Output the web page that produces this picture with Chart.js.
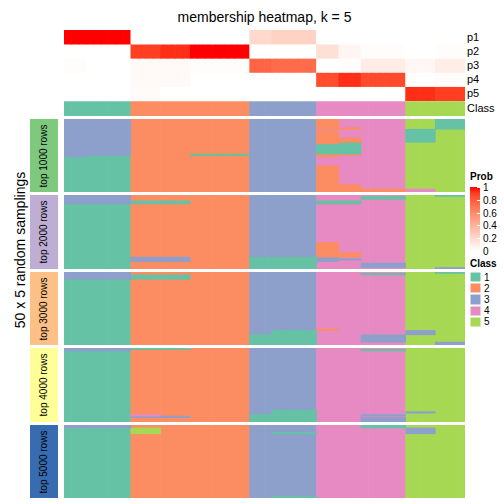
<!DOCTYPE html>
<html>
<head>
<meta charset="utf-8">
<script src="https://cdn.jsdelivr.net/npm/chart.js@4.4.1/dist/chart.umd.min.js"></script>
<style>
  html, body { margin: 0; padding: 0; background: #fff; }
  body { width: 504px; height: 504px; position: relative; overflow: hidden; font-family: "Liberation Sans", Arial, sans-serif; color: #000; }
  .abs { position: absolute; }
  canvas { position: absolute; display: block; }
  .rot { position: absolute; white-space: nowrap; transform: translate(-50%, -50%) rotate(-90deg); }
  .lbl { position: absolute; white-space: nowrap; font-size: 11px; line-height: 11px; }
</style>
</head>
<body>
<script>
// ---------------- DATA ----------------
const title = 'membership heatmap, k = 5';
const rowTitle = '50 x 5 random samplings';
const nCols = 54;
const nSamplings = 50;
// column groups (sample index boundaries) and their class
const groupBounds = [0, 3, 9, 13, 17, 25, 28, 34, 37, 40, 46, 50, 54];
const groupClass  = [1, 1, 2, 2, 2, 3, 3, 4, 4, 4, 5, 5];
// membership probabilities per column group
const p1 = [1.00, 1.00, 0.00, 0.00, 0.00, 0.20, 0.23, 0.00, 0.00, 0.00, 0.00, 0.00];
const p2 = [0.00, 0.00, 0.90, 0.94, 1.00, 0.00, 0.00, 0.16, 0.05, 0.01, 0.00, 0.01];
const p3 = [0.01, 0.00, 0.03, 0.03, 0.01, 0.76, 0.73, 0.00, 0.01, 0.10, 0.04, 0.09];
const p4 = [0.00, 0.00, 0.03, 0.03, 0.00, 0.00, 0.00, 0.85, 0.94, 0.86, 0.00, 0.01];
const p5 = [0.00, 0.00, 0.02, 0.00, 0.00, 0.00, 0.00, 0.00, 0.00, 0.00, 0.94, 0.90];
const probNames = ['p1', 'p2', 'p3', 'p4', 'p5'];
const classNames = ['1', '2', '3', '4', '5'];
const classColors = {1: '#66C2A5', 2: '#FC8D62', 3: '#8DA0CB', 4: '#E78AC3', 5: '#A6D854'};
const probTicks = [1, 0.8, 0.6, 0.4, 0.2, 0];
// sampling blocks: [firstCol, endCol, firstRow, endRow, class] deviations from the group class
const top1000 = [
  [0, 3, 0, 26, 3], [3, 9, 0, 25, 3],
  [17, 25, 24, 25, 1],
  [34, 37, 0, 7, 2], [34, 37, 8, 17, 2], [34, 37, 17, 24, 1], [34, 37, 24, 26, 2], [34, 37, 32, 50, 2],
  [37, 40, 6, 7, 2], [37, 40, 13, 16, 2], [37, 40, 16, 24, 1], [37, 40, 24, 25, 2], [37, 40, 45, 50, 2],
  [40, 46, 48, 50, 2],
  [46, 50, 7, 16, 1], [46, 50, 48, 50, 4],
  [50, 54, 0, 7, 1]
];
const top2000 = [
  [0, 9, 0, 6, 3],
  [9, 17, 4, 6, 1], [9, 17, 42, 45, 3],
  [25, 34, 42, 50, 1], [25, 28, 45, 47, 3],
  [34, 37, 4, 6, 1], [34, 37, 32, 42, 2], [34, 37, 42, 45, 3],
  [37, 40, 4, 6, 1], [37, 40, 39, 42, 2], [37, 40, 43, 44, 3],
  [40, 46, 1, 3, 1], [40, 46, 46, 49, 3],
  [50, 54, 0, 1, 1], [50, 54, 49, 50, 3]
];
const top3000 = [
  [0, 9, 0, 5, 3],
  [9, 17, 2, 5, 1],
  [25, 28, 43, 50, 1], [28, 34, 40, 50, 1],
  [34, 37, 39, 40, 2],
  [40, 46, 1, 2, 1], [40, 46, 43, 48, 3],
  [46, 50, 40, 43, 3],
  [50, 54, 0, 1, 1], [50, 54, 48, 50, 3]
];
const top4000 = [
  [0, 9, 0, 2, 3],
  [9, 17, 0, 1, 1], [9, 13, 45, 46, 4], [9, 17, 46, 47, 3],
  [25, 28, 45, 50, 1], [28, 34, 42, 50, 1],
  [40, 46, 1, 2, 1], [40, 46, 45, 46, 3], [40, 46, 47, 50, 3],
  [46, 50, 43, 44, 3]
];
const top5000 = [
  [0, 9, 0, 2, 3],
  [9, 13, 2, 6, 5],
  [28, 34, 5, 6, 1], [28, 34, 49, 50, 1],
  [40, 46, 0, 2, 1],
  [46, 50, 2, 6, 3]
];
const blockNames  = ['top 1000 rows', 'top 2000 rows', 'top 3000 rows', 'top 4000 rows', 'top 5000 rows'];
const blockColors = ['#7FC97F', '#BEAED4', '#FDC086', '#FFFF99', '#386CB0'];
const blockData   = [top1000, top2000, top3000, top4000, top5000];

// ---------------- HELPERS ----------------
function toLin(c) { c /= 255; return c <= 0.04045 ? c / 12.92 : Math.pow((c + 0.055) / 1.055, 2.4); }
function toSrgb(c) { c = Math.max(0, Math.min(1, c)); return Math.round(255 * (c <= 0.0031308 ? 12.92 * c : 1.055 * Math.pow(c, 1 / 2.4) - 0.055)); }
function rgb2lab(rgb) {
  const [r, g, b] = rgb.map(toLin);
  const X = (0.4124 * r + 0.3576 * g + 0.1805 * b) / 0.95047;
  const Y = (0.2126 * r + 0.7152 * g + 0.0722 * b);
  const Z = (0.0193 * r + 0.1192 * g + 0.9505 * b) / 1.08883;
  const f = t => t > 0.008856 ? Math.cbrt(t) : 7.787 * t + 16 / 116;
  const fx = f(X), fy = f(Y), fz = f(Z);
  return [116 * fy - 16, 500 * (fx - fy), 200 * (fy - fz)];
}
function lab2rgb(lab) {
  const [L, a, bb] = lab;
  const fy = (L + 16) / 116, fx = fy + a / 500, fz = fy - bb / 200;
  const inv = t => t * t * t > 0.008856 ? t * t * t : (t - 16 / 116) / 7.787;
  const X = inv(fx) * 0.95047, Y = inv(fy), Z = inv(fz) * 1.08883;
  const r = 3.2406 * X - 1.5372 * Y - 0.4986 * Z;
  const g = -0.9689 * X + 1.8758 * Y + 0.0415 * Z;
  const b = 0.0557 * X - 0.2040 * Y + 1.0570 * Z;
  return 'rgb(' + toSrgb(r) + ',' + toSrgb(g) + ',' + toSrgb(b) + ')';
}
const LW = rgb2lab([255, 255, 255]), LR = rgb2lab([255, 0, 0]);
function probColor(v) { return lab2rgb([0, 1, 2].map(i => LW[i] + (LR[i] - LW[i]) * v)); }

const columns = Array.from({length: nCols}, (_, i) => i);
function groupOf(c) { for (let g = 0; g < groupClass.length; g++) if (c >= groupBounds[g] && c < groupBounds[g + 1]) return g; return 0; }

function el(tag, cls, style, text) {
  const e = document.createElement(tag);
  if (cls) e.className = cls;
  Object.assign(e.style, style || {});
  if (text !== undefined) e.textContent = text;
  document.body.appendChild(e);
  return e;
}
function makeCanvas(left, top, w, h) {
  const c = el('canvas', null, {left: left + 'px', top: top + 'px', width: w + 'px', height: h + 'px'});
  c.width = w; c.height = h;
  return c;
}
const baseOptions = (ymax) => ({
  responsive: false, animation: false, events: [],
  layout: {padding: 0},
  plugins: {legend: {display: false}, tooltip: {enabled: false}, title: {display: false}},
  datasets: {bar: {grouped: false, categoryPercentage: 1, barPercentage: 1, borderWidth: 0, borderSkipped: false}},
  scales: {
    x: {display: false, grid: {display: false}},
    y: {display: false, min: 0, max: ymax, reverse: true, grid: {display: false}}
  }
});

// ---------------- LAYOUT ----------------
const HX = 64, HW = 401;

el('div', 'abs', {left: HX + 'px', width: HW + 'px', top: '9px', textAlign: 'center', fontSize: '14px', lineHeight: '16px'}, title);

// top annotation: probability rows + class row
const annCanvas = makeCanvas(HX, 30, HW, 86);
const probs = [p1, p2, p3, p4, p5];
const annSets = probs.map((p, k) => ({
  data: columns.map(() => [k, k + 1]),
  backgroundColor: columns.map(c => probColor(p[groupOf(c)])),
  order: 1
}));
annSets.push({
  data: columns.map(() => [5.06, 6.08]),
  backgroundColor: columns.map(c => classColors[groupClass[groupOf(c)]]),
  order: 1
});
new Chart(annCanvas, {type: 'bar', data: {labels: columns, datasets: annSets}, options: baseOptions(6.08)});

// annotation names
probNames.forEach((n, k) => el('div', 'lbl', {left: '467px', top: (30 + 14.1 * k + 1.5) + 'px'}, n));
el('div', 'lbl', {left: '467px', top: '102.5px'}, 'Class');

// heatmap blocks
const blockTops = [119, 195, 272, 348, 425];
const blockHeights = [73, 74, 73, 74, 73];
blockData.forEach((segs, b) => {
  const cv = makeCanvas(HX, blockTops[b], HW, blockHeights[b]);
  const ds = [{
    data: columns.map(() => [0, nSamplings]),
    backgroundColor: columns.map(c => classColors[groupClass[groupOf(c)]]),
    order: 2
  }];
  segs.forEach(s => {
    const [c0, c1, r0, r1, cls] = s;
    ds.push({
      data: columns.map(c => (c >= c0 && c < c1) ? [r0, r1] : null),
      backgroundColor: classColors[cls],
      order: 1
    });
  });
  new Chart(cv, {type: 'bar', data: {labels: columns, datasets: ds}, options: baseOptions(nSamplings)});
  // block label
  el('div', 'abs', {left: '30px', top: blockTops[b] + 'px', width: '28px', height: blockHeights[b] + 'px', background: blockColors[b]});
  el('div', 'rot', {left: '44px', top: (blockTops[b] + blockHeights[b] / 2) + 'px', fontSize: '10px', lineHeight: '10px'}, blockNames[b]);
});

// row title
el('div', 'rot', {left: '20px', top: '250px', fontSize: '14px', lineHeight: '14px'}, rowTitle);

// Prob legend
el('div', 'abs', {left: '470px', top: '172px', fontSize: '10px', fontWeight: 'bold', lineHeight: '10px'}, 'Prob');
const stops = [];
for (let i = 0; i <= 10; i++) stops.push(probColor(1 - i / 10) + ' ' + (i * 10) + '%');
const gTop = 187, gH = 64;
el('div', 'abs', {left: '470px', top: gTop + 'px', width: '10px', height: gH + 'px', background: 'linear-gradient(to bottom, ' + stops.join(',') + ')'});
probTicks.forEach(v => {
  const y = gTop + (1 - v) * gH;
  el('div', 'abs', {left: '477px', top: (Math.min(y, gTop + gH - 1)) + 'px', width: '3px', height: '1px', background: '#fff'});
  el('div', 'abs', {left: '483px', top: (y - 4) + 'px', fontSize: '10px', lineHeight: '10px'}, String(v));
});

// Class legend
el('div', 'abs', {left: '470px', top: '259px', fontSize: '10px', fontWeight: 'bold', lineHeight: '10px'}, 'Class');
classNames.forEach((n, i) => {
  const y = 272 + i * 11.2;
  el('div', 'abs', {left: '470px', top: y + 'px', width: '11px', height: '10.2px', background: classColors[i + 1], boxShadow: '0 0 0 0.5px #fff inset'});
  el('div', 'abs', {left: '484px', top: (y + 0.5) + 'px', fontSize: '10px', lineHeight: '10px'}, n);
});
</script>
</body>
</html>
